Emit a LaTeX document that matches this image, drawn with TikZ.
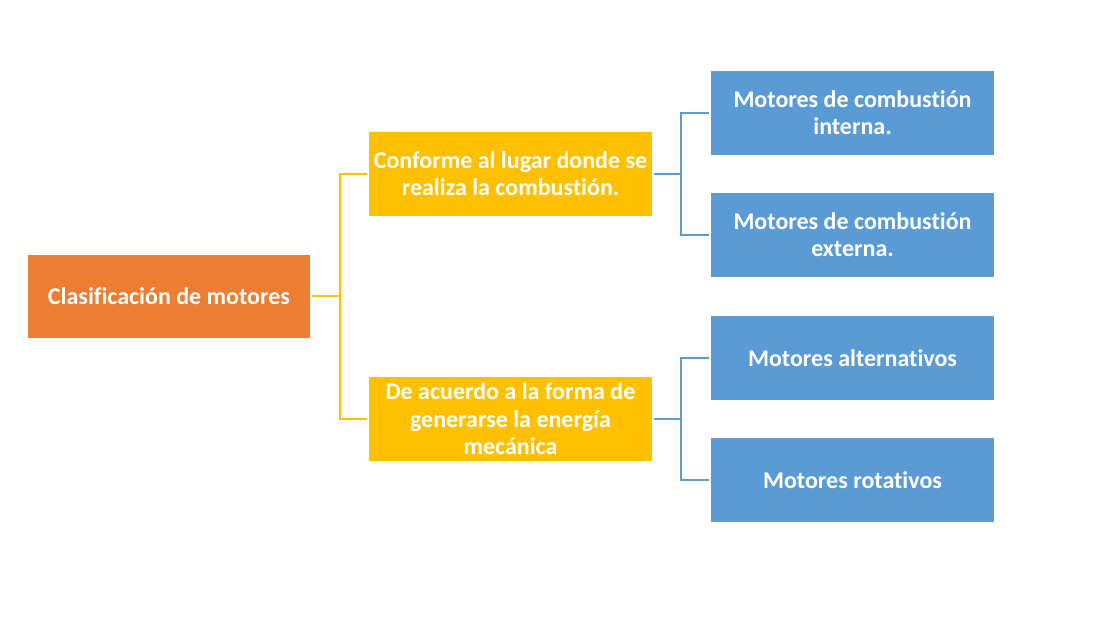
\documentclass[tikz,border=0pt]{standalone}
\usepackage{fontspec}
\setmainfont[Ligatures={NoCommon}]{Carlito}
\definecolor{cOrange}{HTML}{ED7D31}
\definecolor{cYellow}{HTML}{FFC000}
\definecolor{cBlue}{HTML}{5B9BD5}
\begin{document}
\begin{tikzpicture}[x=0.75pt,y=-0.75pt,
  box/.style={draw=none,minimum width=283*0.75pt,minimum height=84*0.75pt,inner sep=0pt,
    text=white,font=\fontsize{18}{20.5}\selectfont\bfseries,align=center},
  obox/.style={box,fill=cOrange,minimum width=282*0.75pt,minimum height=83*0.75pt},
  ybox/.style={box,fill=cYellow},
  bbox/.style={box,fill=cBlue},
  yline/.style={draw=cYellow,line width=1.5pt},
  bline/.style={draw=cBlue,line width=1.5pt}]
\fill[white] (0,0) rectangle (1105,630);
\useasboundingbox (0,0) rectangle (1105,630);
\node[obox] (o) at (169,296.5) {Clasificación de motores};
\node[ybox] (y1) at (510.5,174) {Conforme al lugar donde se\\realiza la combustión.};
\node[ybox] (y2) at (510.5,419) {De acuerdo a la forma de\\generarse la energía\\mecánica};
\node[bbox] (b1) at (852.5,113) {Motores de combustión\\interna.};
\node[bbox] (b2) at (852.5,235) {Motores de combustión\\externa.};
\node[bbox] (b3) at (852.5,358) {Motores alternativos};
\node[bbox] (b4) at (852.5,480) {Motores rotativos};
\coordinate (j0) at (340,296.5);
\coordinate (j1) at (681,174);
\coordinate (j2) at (681,419);
\draw[yline] ([xshift=2*0.75pt]o.east) -- (j0);
\draw[yline] ([xshift=-2*0.75pt]y1.west) -| (j0);
\draw[yline] ([xshift=-2*0.75pt]y2.west) -| (j0);
\draw[bline] ([xshift=2*0.75pt]y1.east) -- (j1);
\draw[bline] ([xshift=-2*0.75pt]b1.west) -| (j1);
\draw[bline] ([xshift=-2*0.75pt]b2.west) -| (j1);
\draw[bline] ([xshift=2*0.75pt]y2.east) -- (j2);
\draw[bline] ([xshift=-2*0.75pt]b3.west) -| (j2);
\draw[bline] ([xshift=-2*0.75pt]b4.west) -| (j2);
\end{tikzpicture}
\end{document}
